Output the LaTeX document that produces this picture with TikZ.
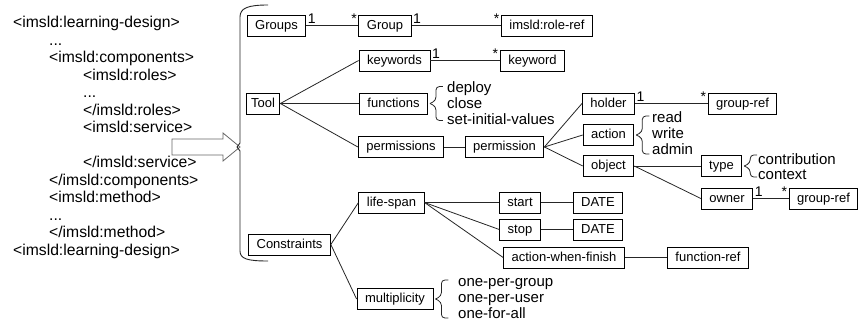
\documentclass[tikz,border=0pt]{standalone}
\usepackage{fontspec}
\setmainfont{Liberation Sans}
\usepackage{tikz}
\tikzset{
  elembox/.style   = {draw=black, line width=0.9pt, minimum height=21pt,
                      inner xsep=8pt, text height=9.5pt, text depth=2.5pt,
                      font=\fontsize{13}{15}\selectfont},
  xmlline/.style   = {anchor=base west, inner sep=0pt,
                      font=\fontsize{15.7}{17}\selectfont},
  listitem/.style  = {anchor=base west, inner sep=0pt,
                      font=\fontsize{15}{16}\selectfont},
  multlbl/.style   = {inner sep=1.5pt, font=\fontsize{14}{14}\selectfont},
  linkedge/.style  = {line width=0.8pt, black!85},
  listbrace/.style = {line width=0.8pt, black!85, rounded corners=3.5pt}
}
% small brace in front of a list of values: node, half height
\newcommand{\itembrace}[2]{%
  \draw[listbrace] ([xshift=2pt]#1.east) -- ++(6,-3) -- ++(0,{3-#2}) -- ++(7,0);
  \draw[listbrace] ([xshift=2pt]#1.east) -- ++(6,3) -- ++(0,{#2-3}) -- ++(7,0);}

\begin{document}
\begin{tikzpicture}[x=1pt, y=-1pt]
  \useasboundingbox (0,0) rectangle (859,324);
  % ---- xml excerpt ----
  \node[xmlline] (x0)  at (13, 27.5)  {<imsld:learning-design>};
  \node[xmlline] (x1)  at (49, 45)    {...};
  \node[xmlline] (x2)  at (49, 62.5)  {<imsld:components>};
  \node[xmlline] (x3)  at (83, 80)    {<imsld:roles>};
  \node[xmlline] (x4)  at (83, 97.5)  {...};
  \node[xmlline] (x5)  at (83, 115)   {</imsld:roles>};
  \node[xmlline] (x6)  at (83, 132.5) {<imsld:service>};
  \node[xmlline] (x8)  at (83, 167.5) {</imsld:service>};
  \node[xmlline] (x9)  at (49, 185)   {</imsld:components>};
  \node[xmlline] (x10) at (49, 202.5) {<imsld:method>};
  \node[xmlline] (x11) at (49, 220)   {...};
  \node[xmlline] (x12) at (49, 237.5) {</imsld:method>};
  \node[xmlline] (x13) at (13, 255)   {<imsld:learning-design>};
  % ---- block arrow and big brace ----
  \draw[line width=0.8pt, black!60] (172,139) -- (223,139) -- (223,133) -- (240,147)
        -- (223,161) -- (223,155) -- (172,155) -- cycle;
  \draw[line width=0.9pt, black!85] (268,5) .. controls (248,5) and (240,8) .. (240,17)
        -- (240,143) -- (237,147) -- (240,151) -- (240,251)
        .. controls (240,259) and (248,261) .. (268,261);
  % ---- element boxes ----
  % Groups row
  \node[elembox] (groups)  at (276.5,25.5) {Groups};
  \node[elembox] (group)   at (385,25.5)   {Group};
  \node[elembox] (roleref) at (547,25.5)   {imsld:role-ref};
  % Tool part
  \node[elembox, inner xsep=5pt] (tool) at (263,103.5) {Tool};
  \node[elembox] (keywords)    at (394.5,60.5) {keywords};
  \node[elembox] (keyword)     at (532.5,60.5) {keyword};
  \node[elembox] (functions)   at (393.5,103.5) {functions};
  \node[elembox] (permissions) at (401,147)    {permissions};
  \node[elembox] (permission)  at (504.5,147)  {permission};
  \node[elembox] (holder)      at (608.5,103.5) {holder};
  \node[elembox] (groupref1)   at (742.5,103.5) {group-ref};
  \node[elembox] (action)      at (608.5,135)  {action};
  \node[elembox] (object)      at (608.5,166)  {object};
  \node[elembox] (type)        at (721.5,166)  {type};
  \node[elembox] (owner)       at (727,198.5)  {owner};
  \node[elembox] (groupref2)   at (823.5,198.5) {group-ref};
  % Constraints part
  \node[elembox] (constraints)  at (289.5,244.5) {Constraints};
  \node[elembox] (lifespan)     at (391.5,202.5) {life-span};
  \node[elembox] (start)        at (520,202.5)   {start};
  \node[elembox] (date1)        at (598,202.5)   {DATE};
  \node[elembox] (stop)         at (520,229.5)   {stop};
  \node[elembox] (date2)        at (598,229.5)   {DATE};
  \node[elembox] (awf)          at (564,257.5)   {action-when-finish};
  \node[elembox] (funcref)      at (708,257.5)   {function-ref};
  \node[elembox] (multiplicity) at (395,299)     {multiplicity};
  % ---- edges ----
  \draw[linkedge] (groups)--(group); \draw[linkedge] (group)--(roleref);
  \draw[linkedge] (tool.east)--(keywords.west); \draw[linkedge] (tool.east)--(functions.west);
  \draw[linkedge] (tool.east)--(permissions.west);
  \draw[linkedge] (keywords)--(keyword); \draw[linkedge] (permissions)--(permission);
  \draw[linkedge] (permission.east)--(holder.west); \draw[linkedge] (permission.east)--(action.west);
  \draw[linkedge] (permission.east)--(object.west);
  \draw[linkedge] (holder)--(groupref1);
  \draw[linkedge] (object.east)--(type.west); \draw[linkedge] (object.east)--(owner.west);
  \draw[linkedge] (owner)--(groupref2);
  \draw[linkedge] (constraints.east)--(lifespan.west); \draw[linkedge] (constraints.east)--(multiplicity.west);
  \draw[linkedge] (lifespan.east)--(start.west); \draw[linkedge] (lifespan.east)--(stop.west);
  \draw[linkedge] (lifespan.east)--(awf.west);
  \draw[linkedge] (start)--(date1); \draw[linkedge] (stop)--(date2); \draw[linkedge] (awf)--(funcref);
  % ---- multiplicities ----
  \node[multlbl, anchor=south west] (groupsone)  at (groups.east)    {1};
  \node[multlbl, anchor=south east] (groupstar)  at (group.west)     {*};
  \node[multlbl, anchor=south west] (groupone)   at (group.east)     {1};
  \node[multlbl, anchor=south east] (rolestar)   at (roleref.west)   {*};
  \node[multlbl, anchor=south west] (kwone)      at (keywords.east)  {1};
  \node[multlbl, anchor=south east] (kwstar)     at (keyword.west)   {*};
  \node[multlbl, anchor=south west] (holderone)  at (holder.east)    {1};
  \node[multlbl, anchor=south east] (hrefstar)   at (groupref1.west) {*};
  \node[multlbl, anchor=south west] (ownerone)   at (owner.east)     {1};
  \node[multlbl, anchor=south east] (orefstar)   at (groupref2.west) {*};
  % ---- value lists ----
  \itembrace{functions}{17}
  \node[listitem] (fdeploy) at (447,92)  {deploy};
  \node[listitem] (fclose)  at (447,108) {close};
  \node[listitem] (finit)   at (447,124) {set-initial-values};
  \itembrace{action}{19}
  \node[listitem] (aread)  at (652,122) {read};
  \node[listitem] (awrite) at (652,138) {write};
  \node[listitem] (aadmin) at (652,154) {admin};
  \itembrace{type}{11}
  \node[listitem] (tcontrib) at (758,164) {contribution};
  \node[listitem] (tcontext) at (758,179) {context};
  \itembrace{multiplicity}{19}
  \node[listitem] (mgroup) at (458,286) {one-per-group};
  \node[listitem] (muser)  at (458,302) {one-per-user};
  \node[listitem] (mall)   at (458,318) {one-for-all};
\end{tikzpicture}
\end{document}
